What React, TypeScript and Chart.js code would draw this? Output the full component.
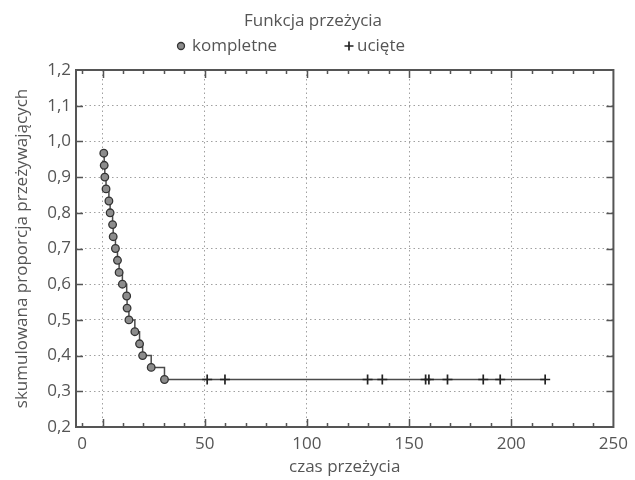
import React, { useEffect, useRef } from 'react';
import { Chart, registerables } from 'chart.js';

Chart.register(...registerables);

// ---- data ----
const EVENT_TIMES = [0.6, 0.8, 1.1, 1.7, 3.1, 3.7, 4.9, 5.2, 6.3, 7.3, 8.1, 9.7, 11.8, 12.0, 12.9, 15.8, 18.1, 19.6, 23.8, 30.3];
const EVENT_SURVIVAL = [0.967, 0.933, 0.9, 0.867, 0.833, 0.8, 0.767, 0.733, 0.7, 0.667, 0.633, 0.6, 0.567, 0.533, 0.5, 0.467, 0.433, 0.4, 0.367, 0.333];
const CENSORED_TIMES = [51.2, 59.9, 129.7, 136.9, 158.1, 159.7, 168.8, 186.3, 194.6, 216.6];
const CENSORED_SURVIVAL = [0.333, 0.333, 0.333, 0.333, 0.333, 0.333, 0.333, 0.333, 0.333, 0.333];

// ---- axes ----
const X_TICKS = [-10, 0, 10, 20, 30, 40, 50, 60, 70, 80, 90, 100, 110, 120, 130, 140, 150, 160, 170, 180, 190, 200, 210, 220, 230, 240, 250];
const X_MAJOR = [0, 50, 100, 150, 200];
const X_LABEL_VALUES = [-10, 50, 100, 150, 200, 250];
const X_LABELS = ['0', '50', '100', '150', '200', '250'];
const Y_TICKS = [0.2, 0.3, 0.4, 0.5, 0.6, 0.7, 0.8, 0.9, 1.0, 1.1, 1.2];

const TITLE = 'Funkcja przeżycia';
const LEGEND_EVENT = 'kompletne';
const LEGEND_CENSORED = 'ucięte';
const X_TITLE = 'czas przeżycia';
const Y_TITLE = 'skumulowana proporcja przeżywających';

const FONT = '"Open Sans", "Noto Sans", sans-serif';
const TEXT = '#555555';
const LINE = '#4a4a4a';
const DOT_FILL = '#8c8c8c';
const DOT_EDGE = '#333333';

const framePlugin = {
  id: 'frameTicks',
  afterDatasetsDraw(chart: any) {
    const { ctx, chartArea, scales } = chart;
    const { left, right, top, bottom } = chartArea;
    const x = scales.x;
    const y = scales.y;
    ctx.save();
    ctx.strokeStyle = '#555555';
    ctx.lineWidth = 1.5;
    ctx.beginPath();
    X_TICKS.forEach((v) => {
      const px = Math.round(x.getPixelForValue(v)) + 0.5;
      if (px <= left + 1 || px >= right - 1) return;
      const len = X_MAJOR.includes(v) ? 8 : 4;
      ctx.moveTo(px, bottom);
      ctx.lineTo(px, bottom - len);
      ctx.moveTo(px, top);
      ctx.lineTo(px, top + len);
    });
    Y_TICKS.forEach((v) => {
      const py = Math.round(y.getPixelForValue(v)) + 0.5;
      if (py <= top + 1 || py >= bottom - 1) return;
      ctx.moveTo(left, py);
      ctx.lineTo(left + 7, py);
      ctx.moveTo(right, py);
      ctx.lineTo(right - 7, py);
    });
    ctx.stroke();
    ctx.lineWidth = 2;
    ctx.strokeRect(left, top, right - left, bottom - top);
    ctx.restore();
  },
  afterDraw(chart: any) {
    const { ctx } = chart;
    ctx.save();
    ctx.fillStyle = TEXT;
    ctx.font = `17px ${FONT}`;
    ctx.textBaseline = 'middle';
    ctx.textAlign = 'center';
    ctx.fillText(TITLE, 313, 21);
    ctx.textAlign = 'left';
    // event marker
    ctx.beginPath();
    ctx.arc(181, 46, 3.5, 0, Math.PI * 2);
    ctx.fillStyle = DOT_FILL;
    ctx.fill();
    ctx.strokeStyle = DOT_EDGE;
    ctx.lineWidth = 1.3;
    ctx.stroke();
    ctx.fillStyle = TEXT;
    ctx.fillText(LEGEND_EVENT, 192, 46);
    // censored marker
    ctx.beginPath();
    ctx.strokeStyle = '#222222';
    ctx.lineWidth = 1.7;
    ctx.moveTo(344.5, 46);
    ctx.lineTo(353.5, 46);
    ctx.moveTo(349, 41.5);
    ctx.lineTo(349, 50.5);
    ctx.stroke();
    ctx.fillText(LEGEND_CENSORED, 357, 46);
    ctx.restore();
  },
};

export default function App() {
  const ref = useRef<HTMLCanvasElement | null>(null);

  useEffect(() => {
    if (!ref.current) return;
    const linePoints = [
      ...EVENT_TIMES.map((t, i) => ({ x: t, y: EVENT_SURVIVAL[i] })),
      ...CENSORED_TIMES.map((t, i) => ({ x: t, y: CENSORED_SURVIVAL[i] })),
    ];
    const chart = new Chart(ref.current, {
      type: 'line',
      data: {
        datasets: [
          {
            label: LEGEND_EVENT,
            data: EVENT_TIMES.map((t, i) => ({ x: t, y: EVENT_SURVIVAL[i] })),
            showLine: false,
            pointStyle: 'circle',
            pointRadius: 3.8,
            pointBackgroundColor: DOT_FILL,
            pointBorderColor: DOT_EDGE,
            pointBorderWidth: 1.3,
          },
          {
            label: LEGEND_CENSORED,
            data: CENSORED_TIMES.map((t, i) => ({ x: t, y: CENSORED_SURVIVAL[i] })),
            showLine: false,
            pointStyle: 'cross',
            pointRadius: 5,
            pointBorderColor: '#222222',
            pointBorderWidth: 1.7,
          },
          {
            label: 'krzywa',
            data: linePoints,
            stepped: 'before',
            borderColor: LINE,
            borderWidth: 1.5,
            pointRadius: 0,
            fill: false,
          },
        ],
      },
      options: {
        animation: false,
        responsive: false,
        events: [],
        layout: { padding: { top: 70, right: 18, left: 0, bottom: 0 } },
        plugins: {
          legend: { display: false },
          title: { display: false },
          tooltip: { enabled: false },
        },
        scales: {
          x: {
            type: 'linear',
            min: -13,
            max: 250,
            afterBuildTicks: (scale: any) => {
              scale.ticks = X_TICKS.map((v) => ({ value: v }));
            },
            afterFit: (scale: any) => {
              scale.height = 53;
            },
            grid: {
              drawTicks: false,
              lineWidth: 1,
              color: (c: any) => (X_MAJOR.includes(c.tick?.value) ? '#a0a0a0' : 'rgba(0,0,0,0)'),
            },
            border: { display: false, dash: [1.5, 3] },
            ticks: {
              autoSkip: false,
              maxRotation: 0,
              padding: 7,
              color: TEXT,
              font: { family: FONT, size: 17 },
              callback: (v: any) => {
                const idx = X_LABEL_VALUES.indexOf(Number(v));
                return idx >= 0 ? X_LABELS[idx] : '';
              },
            },
            title: {
              display: true,
              text: X_TITLE,
              color: TEXT,
              font: { family: FONT, size: 17 },
              padding: { top: 0, bottom: 3 },
            },
          },
          y: {
            type: 'linear',
            min: 0.2,
            max: 1.2,
            afterBuildTicks: (scale: any) => {
              scale.ticks = Y_TICKS.map((v) => ({ value: v }));
            },
            afterFit: (scale: any) => {
              scale.width = 76;
            },
            grid: {
              drawTicks: false,
              lineWidth: 1,
              color: (c: any) => {
                const v = c.tick?.value;
                return v > 0.25 && v < 1.15 ? '#a0a0a0' : 'rgba(0,0,0,0)';
              },
            },
            border: { display: false, dash: [1.5, 3] },
            ticks: {
              autoSkip: false,
              padding: 5,
              color: TEXT,
              font: { family: FONT, size: 17 },
              callback: (v: any) => Number(v).toFixed(1).replace('.', ','),
            },
            title: {
              display: true,
              text: Y_TITLE,
              color: TEXT,
              font: { family: FONT, size: 17 },
              padding: { top: 12, bottom: 0 },
            },
          },
        },
      },
      plugins: [framePlugin],
    });
    return () => chart.destroy();
  }, []);

  return (
    <div style={{ position: 'absolute', left: 0, top: 0, width: 635, height: 480, background: '#ffffff' }}>
      <canvas ref={ref} width={635} height={480} style={{ width: 635, height: 480, display: 'block' }} />
    </div>
  );
}
